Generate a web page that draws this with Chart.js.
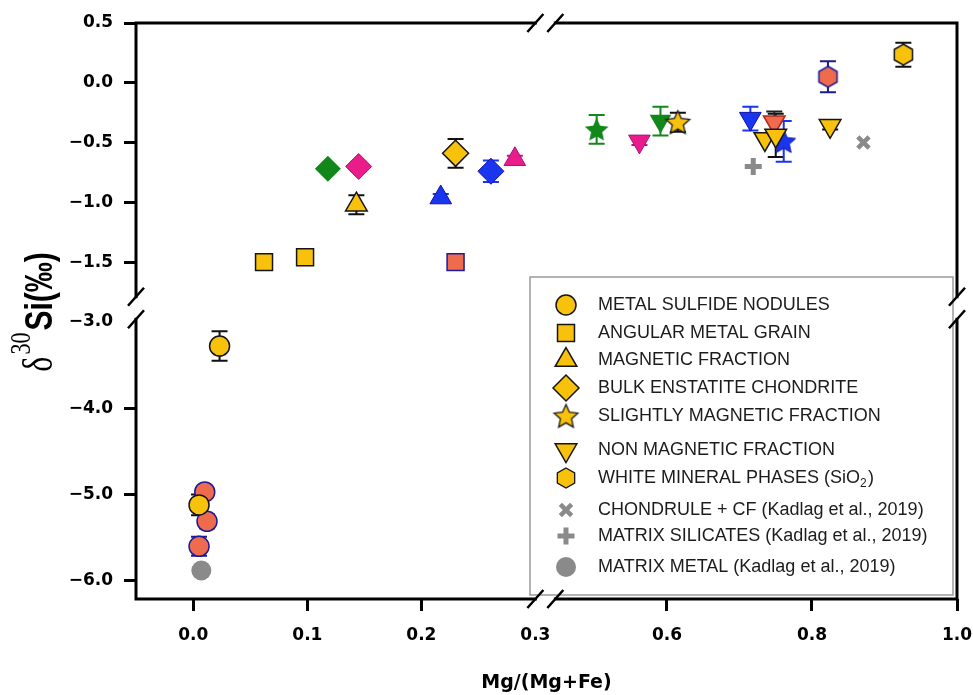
<!DOCTYPE html>
<html>
<head>
<meta charset="utf-8">
<script src="https://cdn.jsdelivr.net/npm/chart.js@4.4.1/dist/chart.umd.min.js"></script>
<style>
  html, body { margin: 0; padding: 0; background: #fff; }
  #wrap { width: 973px; height: 695px; }
</style>
</head>
<body>
<div id="wrap"><canvas id="myChartCanvas1" width="973" height="695"></canvas></div>
<script>
// values: x = Mg/(Mg+Fe), y = d30Si (permil), err = half length of the error bar

// yellow meteorite (black outline)
const nodulesX = [0.023, 0.005];
const nodulesY = [-3.28, -5.12];
const nodulesErr = [0.17, 0.12];
const angularX = [0.062, 0.098];
const angularY = [-1.50, -1.46];
const angularErr = [0, 0.06];
const magneticX = [0.143];
const magneticY = [-1.02];
const magneticErr = [0.08];
const bulkX = [0.230];
const bulkY = [-0.59];
const bulkErr = [0.12];
const slightX = [0.615];
const slightY = [-0.33];
const slightErr = [0.08];
const nonMagX = [0.735, 0.750, 0.825];
const nonMagY = [-0.47, -0.44, -0.36];
const nonMagErr = [0, 0.18, 0.03];
const silicaX = [0.926];
const silicaY = [0.235];
const silicaErr = [0.10];

// orange meteorite (blue outline)
const orNodulesX = [0.010, 0.012, 0.005];
const orNodulesY = [-4.97, -5.31, -5.60];
const orNodulesErr = [0.06, 0.08, 0.11];
const orAngularX = [0.230];
const orAngularY = [-1.50];
const orSilicaX = [0.822];
const orSilicaY = [0.05];
const orSilicaErr = [0.13];
const redNonMagX = [0.748];
const redNonMagY = [-0.33];
const redNonMagErr = [0.09];

// green meteorite
const grBulkX = [0.118];
const grBulkY = [-0.72];
const grSlightX = [0.503];
const grSlightY = [-0.39];
const grSlightErr = [0.12];
const grNonMagX = [0.591];
const grNonMagY = [-0.32];
const grNonMagErr = [0.12];

// magenta meteorite
const mgBulkX = [0.145];
const mgBulkY = [-0.70];
const mgBulkErr = [0.04];
const mgMagX = [0.282];
const mgMagY = [-0.64];
const mgMagErr = [0.03];
const mgNonMagX = [0.562];
const mgNonMagY = [-0.49];
const mgNonMagErr = [0.03];

// blue meteorite
const blMagX = [0.217];
const blMagY = [-0.96];
const blMagErr = [0.03];
const blBulkX = [0.261];
const blBulkY = [-0.74];
const blBulkErr = [0.09];
const blNonMagX = [0.715];
const blNonMagY = [-0.30];
const blNonMagErr = [0.10];
const blSlightX = [0.761];
const blSlightY = [-0.49];
const blSlightErr = [0.17];

// Kadlag et al., 2019 (grey)
const chondX = [0.871];
const chondY = [-0.50];
const matSilX = [0.719];
const matSilY = [-0.70];
const matMetX = [0.007];
const matMetY = [-5.88];

// axes
const xTicks = [0.0, 0.1, 0.2, 0.3, 0.6, 0.8, 1.0];
const yTicks = [0.5, 0.0, -0.5, -1.0, -1.5, -3.0, -4.0, -5.0, -6.0];
const xRange = [-0.0503, 1.0];
const yRange = [-6.21, 0.5];
const xBreak = [0.3, 0.446];   // left part ends / right part starts
const yBreak = [-1.79, -2.97]; // upper part ends / lower part starts

const legendLabels = [
    'METAL SULFIDE NODULES',
    'ANGULAR METAL GRAIN',
    'MAGNETIC FRACTION',
    'BULK ENSTATITE CHONDRITE',
    'SLIGHTLY MAGNETIC FRACTION',
    'NON MAGNETIC FRACTION',
    'WHITE MINERAL PHASES (SiO',
    'CHONDRULE + CF (Kadlag et al., 2019)',
    'MATRIX SILICATES (Kadlag et al., 2019)',
    'MATRIX METAL (Kadlag et al., 2019)'
];

// broken axes: the right part of x and the lower part of y are squeezed
const xSqueeze = 725 / 1140;
const ySqueeze = 86.3 / 119.5;
const xGap = 0.0175;
const yGap = 0.188;

function xd(x) {
    return x <= xBreak[0] + 0.05 ? x : xBreak[0] + xGap + (x - xBreak[1]) * xSqueeze;
}
function yd(y) {
    return y >= yBreak[0] - 0.3 ? y : yBreak[0] - yGap + (y - yBreak[1]) * ySqueeze;
}

// colours
const YELLOW = '#F7C10C', ORANGE = '#EE6B4D', GREEN = '#12871A', MAGENTA = '#EA1C8A', BLUE = '#1A35EE', GREY = '#8A8A8A';

// star / hexagon markers (not built into Chart.js)
function starMarker(r, fill, stroke, lw) {
    const s = Math.ceil(2 * r + lw + 2);
    const c = document.createElement('canvas');
    c.width = s; c.height = s;
    const g = c.getContext('2d');
    g.translate(s / 2, s / 2 + 1);
    g.beginPath();
    for (let i = 0; i < 10; i++) {
        const a = -Math.PI / 2 + i * Math.PI / 5;
        const rr = i % 2 ? r * 0.47 : r;
        g.lineTo(Math.cos(a) * rr, Math.sin(a) * rr);
    }
    g.closePath();
    g.fillStyle = fill;
    g.fill();
    if (lw) { g.lineWidth = lw; g.strokeStyle = stroke; g.stroke(); }
    return c;
}
function hexMarker(r, fill, stroke, lw) {
    const s = Math.ceil(2 * r + lw + 2);
    const c = document.createElement('canvas');
    c.width = s; c.height = s;
    const g = c.getContext('2d');
    g.translate(s / 2, s / 2);
    g.beginPath();
    for (let i = 0; i < 6; i++) {
        const a = -Math.PI / 2 + i * Math.PI / 3;
        g.lineTo(Math.cos(a) * r, Math.sin(a) * r);
    }
    g.closePath();
    g.fillStyle = fill;
    g.fill();
    if (lw) { g.lineWidth = lw; g.strokeStyle = stroke; g.stroke(); }
    return c;
}

const shape = {
    circle: { pointStyle: 'circle', pointRadius: 10 },
    square: { pointStyle: 'rect', pointRadius: 12 },
    triangle: { pointStyle: 'triangle', pointRadius: 12.5 },
    invTriangle: { pointStyle: 'triangle', pointRadius: 12.5, pointRotation: 180 },
    diamond: { pointStyle: 'rectRot', pointRadius: 13 }
};

function look(fill, border, bw, errColor) {
    return { backgroundColor: fill, borderColor: border, borderWidth: bw, errColor: errColor };
}
const yellowLook = look(YELLOW, '#151515', 1.5, '#111');
const orangeLook = look(ORANGE, '#1C1C9A', 1.5, '#1C1C8A');
const redLook = look(ORANGE, '#B3261A', 1.5, '#222');
const greenLook = look(GREEN, GREEN, 0, GREEN);
const magentaLook = look(MAGENTA, '#A5127E', 1, '#C0128A');
const blueLook = look(BLUE, '#1212A8', 1, BLUE);

function series(label, xs, ys, errs, sh, lk) {
    return Object.assign({
        label: label,
        data: xs.map((x, i) => ({ x: xd(x), y: yd(ys[i]) })),
        raw: xs.map((x, i) => ({ x: x, y: ys[i], e: errs ? errs[i] : 0 }))
    }, sh, lk);
}

const datasets = [
    series('Metal sulfide nodules', nodulesX, nodulesY, nodulesErr, shape.circle, yellowLook),
    series('Angular metal grain', angularX, angularY, angularErr, shape.square, yellowLook),
    series('Magnetic fraction', magneticX, magneticY, magneticErr, shape.triangle, yellowLook),
    series('Bulk enstatite chondrite', bulkX, bulkY, bulkErr, shape.diamond, yellowLook),
    series('Slightly magnetic fraction', slightX, slightY, slightErr,
        { pointStyle: starMarker(12.5, YELLOW, '#151515', 1.3) }, yellowLook),
    series('Non magnetic fraction', nonMagX, nonMagY, nonMagErr, shape.invTriangle, yellowLook),
    series('White mineral phases', silicaX, silicaY, silicaErr,
        { pointStyle: hexMarker(10.5, YELLOW, '#151515', 1.5) }, yellowLook),

    series('Blue slightly magnetic', blSlightX, blSlightY, blSlightErr,
        { pointStyle: starMarker(12.5, BLUE, '#1212A8', 1) }, blueLook),
    series('Blue non magnetic', blNonMagX, blNonMagY, blNonMagErr, shape.invTriangle, blueLook),
    series('Blue bulk', blBulkX, blBulkY, blBulkErr, shape.diamond, blueLook),
    series('Blue magnetic', blMagX, blMagY, blMagErr, shape.triangle, blueLook),

    series('Red non magnetic', redNonMagX, redNonMagY, redNonMagErr, shape.invTriangle, redLook),
    series('Orange nodules', orNodulesX, orNodulesY, orNodulesErr, shape.circle, orangeLook),
    series('Orange angular grain', orAngularX, orAngularY, null, shape.square, orangeLook),
    series('Orange white phases', orSilicaX, orSilicaY, orSilicaErr,
        { pointStyle: hexMarker(10.5, ORANGE, '#1C1C9A', 1.5) }, orangeLook),

    series('Green bulk', grBulkX, grBulkY, null, shape.diamond, greenLook),
    series('Green slightly magnetic', grSlightX, grSlightY, grSlightErr,
        { pointStyle: starMarker(12.5, GREEN, GREEN, 0) }, greenLook),
    series('Green non magnetic', grNonMagX, grNonMagY, grNonMagErr, shape.invTriangle, greenLook),

    series('Magenta bulk', mgBulkX, mgBulkY, mgBulkErr, shape.diamond, magentaLook),
    series('Magenta magnetic', mgMagX, mgMagY, mgMagErr, shape.triangle, magentaLook),
    series('Magenta non magnetic', mgNonMagX, mgNonMagY, mgNonMagErr, shape.invTriangle, magentaLook),

    series('Chondrule + CF', chondX, chondY, null,
        { pointStyle: 'crossRot', pointRadius: 8 }, look(GREY, GREY, 4.5, GREY)),
    series('Matrix silicates', matSilX, matSilY, null,
        { pointStyle: 'cross', pointRadius: 8.5 }, look(GREY, GREY, 5, GREY)),
    series('Matrix metal', matMetX, matMetY, null, shape.circle, look(GREY, GREY, 0, GREY))
];

// markers used in the legend
const legendMarkers = [
    { pointStyle: 'circle', radius: 10, fill: YELLOW, border: '#151515', bw: 1.5 },
    { pointStyle: 'rect', radius: 12, fill: YELLOW, border: '#151515', bw: 1.5 },
    { pointStyle: 'triangle', radius: 12.5, fill: YELLOW, border: '#151515', bw: 1.5 },
    { pointStyle: 'rectRot', radius: 13, fill: YELLOW, border: '#151515', bw: 1.5 },
    { pointStyle: starMarker(12.5, YELLOW, '#151515', 1.3), radius: 12 },
    { pointStyle: 'triangle', radius: 12.5, rotation: 180, fill: YELLOW, border: '#151515', bw: 1.5 },
    { pointStyle: hexMarker(10, YELLOW, '#151515', 1.3), radius: 10 },
    { pointStyle: 'crossRot', radius: 8, fill: GREY, border: GREY, bw: 4.5 },
    { pointStyle: 'cross', radius: 8.5, fill: GREY, border: GREY, bw: 5 },
    { pointStyle: 'circle', radius: 10, fill: GREY, border: GREY, bw: 0 }
];

const tickFont = { family: 'DejaVu Sans', size: 17, weight: 'bold' };

function fixedTicks(values, map, hidden) {
    return function (scale) {
        scale.ticks = values.map(v => ({
            value: map(v),
            text: v.toFixed(1).replace('-', '\u2212'),
            mark: hidden.indexOf(v) < 0
        }));
    };
}

const errorBars = {
    id: 'errorBars',
    beforeDatasetsDraw(chart) {
        const ctx = chart.ctx;
        const xs = chart.scales.x, ys = chart.scales.y;
        ctx.save();
        ctx.lineWidth = 2;
        chart.data.datasets.forEach(ds => {
            ds.raw.forEach(p => {
                if (!p.e) return;
                const px = xs.getPixelForValue(xd(p.x));
                const top = ys.getPixelForValue(yd(p.y + p.e));
                const bot = ys.getPixelForValue(yd(p.y - p.e));
                ctx.strokeStyle = ds.errColor;
                ctx.beginPath();
                ctx.moveTo(px, top); ctx.lineTo(px, bot);
                ctx.moveTo(px - 8, top); ctx.lineTo(px + 8, top);
                ctx.moveTo(px - 8, bot); ctx.lineTo(px + 8, bot);
                ctx.stroke();
            });
        });
        ctx.restore();
    }
};

const legendBox = {
    id: 'legendBox',
    afterDatasetsDraw(chart) {
        const ctx = chart.ctx;
        const left = 530, top = 277, right = 953, bottom = 595;
        const rows = [28, 56, 83, 111, 139, 173, 201, 233, 259, 290];
        ctx.save();
        ctx.fillStyle = '#fff';
        ctx.fillRect(left, top, right - left, bottom - top);
        ctx.strokeStyle = '#9a9a9a';
        ctx.lineWidth = 1.5;
        ctx.strokeRect(left, top, right - left, bottom - top);
        legendMarkers.forEach((m, i) => {
            const y = top + rows[i];
            ctx.fillStyle = m.fill || YELLOW;
            ctx.strokeStyle = m.border || '#151515';
            ctx.lineWidth = m.bw || 0;
            Chart.helpers.drawPoint(ctx, {
                pointStyle: m.pointStyle, radius: m.radius,
                rotation: m.rotation || 0, borderWidth: m.bw || 0
            }, left + 36, y);
        });
        ctx.fillStyle = '#1c1c1c';
        ctx.font = '18px "Liberation Sans", Arial, sans-serif';
        ctx.textBaseline = 'middle';
        ctx.textAlign = 'left';
        legendLabels.forEach((t, i) => {
            const y = top + rows[i];
            const x = left + 68;
            ctx.fillText(t, x, y);
            if (i === 6) {
                const w = ctx.measureText(t).width;
                ctx.font = '12px "Liberation Sans", Arial, sans-serif';
                ctx.fillText('2', x + w, y + 6);
                ctx.font = '18px "Liberation Sans", Arial, sans-serif';
                ctx.fillText(')', x + w + 8, y);
            }
        });
        ctx.restore();
    }
};

// axis lines with the // breaks, frame on top and right
const brokenFrame = {
    id: 'brokenFrame',
    afterDraw(chart) {
        const ctx = chart.ctx;
        const a = chart.chartArea;
        const xs = chart.scales.x, ys = chart.scales.y;
        const xb0 = xs.getPixelForValue(xd(xBreak[0]));
        const xb1 = xs.getPixelForValue(xd(xBreak[1]));
        const yb0 = ys.getPixelForValue(yd(yBreak[0]));
        const yb1 = ys.getPixelForValue(yd(yBreak[1]));
        ctx.save();
        ctx.strokeStyle = '#000';
        ctx.lineCap = 'square';
        ctx.lineWidth = 3;
        ctx.beginPath();
        // bottom + top
        [a.bottom, a.top].forEach(y => {
            ctx.moveTo(a.left, y); ctx.lineTo(xb0, y);
            ctx.moveTo(xb1, y); ctx.lineTo(a.right, y);
        });
        // left + right
        [a.left, a.right].forEach(x => {
            ctx.moveTo(x, a.top); ctx.lineTo(x, yb0);
            ctx.moveTo(x, yb1); ctx.lineTo(x, a.bottom);
        });
        ctx.stroke();
        ctx.lineWidth = 2.5;
        ctx.lineCap = 'butt';
        ctx.beginPath();
        const slash = (cx, cy) => { ctx.moveTo(cx - 8, cy + 9); ctx.lineTo(cx + 8, cy - 9); };
        [a.bottom, a.top].forEach(y => { slash(xb0, y); slash(xb1, y); });
        [a.left, a.right].forEach(x => { slash(x, yb0); slash(x, yb1); });
        ctx.stroke();
        ctx.restore();
    }
};

// y title: delta 30 Si (permil), drawn a bit wide like the original
const yTitle = {
    id: 'yTitle',
    afterDraw(chart) {
        const ctx = chart.ctx;
        const a = chart.chartArea;
        const parts = [
            { t: '\u03B4', f: '32px "Liberation Serif", serif', dy: 0 },
            { t: '30', f: '22px "Liberation Serif", serif', dy: -17 },
            { t: 'Si(\u2030)', f: 'bold 30px "Liberation Sans", Arial, sans-serif', dy: 0 }
        ];
        ctx.save();
        let total = 0;
        parts.forEach(p => { ctx.font = p.f; p.w = ctx.measureText(p.t).width; total += p.w + 2; });
        ctx.translate(38, (a.top + a.bottom) / 2);
        ctx.scale(1.3, 1);
        ctx.rotate(-Math.PI / 2);
        ctx.fillStyle = '#000';
        ctx.textBaseline = 'alphabetic';
        let x = -total / 2;
        parts.forEach(p => {
            ctx.font = p.f;
            ctx.fillText(p.t, x, 11 + p.dy);
            x += p.w + 2;
        });
        ctx.restore();
    }
};

new Chart(document.getElementById('myChartCanvas1'), {
    type: 'scatter',
    data: { datasets: datasets },
    options: {
        responsive: false,
        devicePixelRatio: 1,
        animation: false,
        layout: { padding: { top: 23, right: 16, bottom: 0, left: 0 } },
        scales: {
            x: {
                type: 'linear',
                position: 'bottom',
                min: xd(xRange[0]),
                max: xd(xRange[1]),
                afterBuildTicks: fixedTicks(xTicks, xd, [0.3]),
                afterFit: s => { s.height = 96; s.paddingLeft = 0; s.paddingRight = 0; },
                border: { display: false },
                grid: {
                    drawOnChartArea: false,
                    drawTicks: true,
                    tickLength: 12,
                    tickWidth: 3,
                    tickColor: c => (c.tick && c.tick.mark === false) ? 'rgba(0,0,0,0)' : '#000'
                },
                ticks: {
                    autoSkip: false,
                    maxRotation: 0,
                    padding: 14,
                    color: '#000',
                    font: tickFont,
                    callback: (v, i, t) => t[i].text
                },
                title: {
                    display: true,
                    text: 'Mg/(Mg+Fe)',
                    color: '#000',
                    font: { family: 'DejaVu Sans', size: 19, weight: 'bold', lineHeight: 1 },
                    padding: { top: 0, bottom: 2 }
                }
            },
            y: {
                type: 'linear',
                position: 'left',
                min: yd(yRange[0]),
                max: yd(yRange[1]),
                afterBuildTicks: fixedTicks(yTicks, yd, [-3.0]),
                afterFit: s => { s.width = 136; s.paddingTop = 0; s.paddingBottom = 0; },
                border: { display: false },
                grid: {
                    drawOnChartArea: false,
                    drawTicks: true,
                    tickLength: 12,
                    tickWidth: 3,
                    tickColor: c => (c.tick && c.tick.mark === false) ? 'rgba(0,0,0,0)' : '#000'
                },
                ticks: {
                    autoSkip: false,
                    padding: 11,
                    color: '#000',
                    font: tickFont,
                    callback: (v, i, t) => t[i].text
                }
            }
        },
        plugins: {
            legend: { display: false },
            tooltip: { enabled: false }
        }
    },
    plugins: [errorBars, legendBox, brokenFrame, yTitle]
});
</script>
</body>
</html>
